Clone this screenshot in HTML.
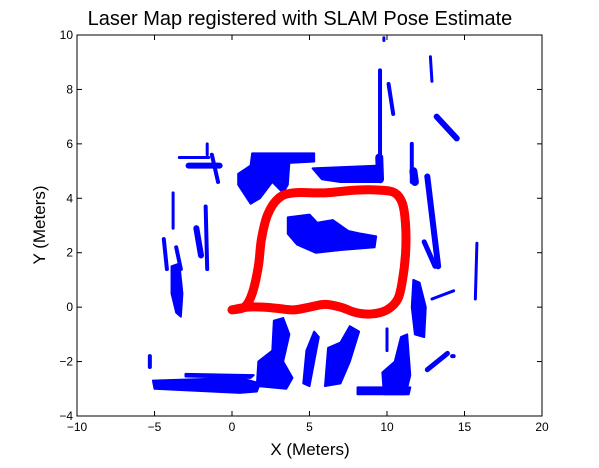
<!DOCTYPE html>
<html><head><meta charset="utf-8"><style>
html,body{margin:0;padding:0;background:#fff;}
svg{display:block;font-family:"Liberation Sans",sans-serif;}
</style></head><body>
<svg id="chart" width="599" height="468" viewBox="0 0 599 468">
<rect width="599" height="468" fill="#fff"/>
<text x="300" y="25" font-size="20" text-anchor="middle">Laser Map registered with SLAM Pose Estimate</text>
<text x="310" y="455" font-size="17" text-anchor="middle">X (Meters)</text>
<text transform="translate(45,225) rotate(-90)" font-size="17" text-anchor="middle">Y (Meters)</text>
<g id="marks"></g>
<g id="axes"></g>
</svg>
<script>
const xTicks=[-10,-5,0,5,10,15,20];
const yTicks=[-4,-2,0,2,4,6,8,10];
// laser scan blobs (polygons, data coords)
const scanBlobs=[
 [[1.3,5.65],[5.3,5.65],[5.3,5.35],[3.7,5.3],[3.6,4.5],[3.3,4.2],[2.6,4.6],[1.8,4.0],[1.2,3.8],[0.4,4.5],[0.4,4.9],[1.2,5.2]],
 [[5.2,5.1],[9.5,5.2],[9.6,4.6],[7,4.6],[5.8,4.7]],
 [[3.6,3.3],[5,3.4],[5.5,3.1],[6.5,3.2],[7.5,2.8],[8.3,2.7],[9.3,2.6],[9.2,2.2],[7,2.1],[5.4,2.0],[4.2,2.3],[3.6,2.7]],
 [[-3.9,1.5],[-3.4,1.6],[-3.2,0.5],[-3.3,-0.35],[-3.6,-0.2],[-3.9,0.5]],
 [[-5.1,-2.7],[0.5,-2.6],[1.8,-2.8],[1.6,-3.1],[0.5,-3.15],[-5,-3.0]],
 [[2.7,-0.5],[3.3,-0.4],[3.7,-1.0],[3.3,-2.0],[3.9,-2.6],[3.5,-3.0],[1.6,-2.9],[1.7,-2.0],[2.6,-1.6]],
 [[5.3,-0.9],[5.6,-1.1],[5.0,-2.9],[4.6,-2.8],[4.8,-1.6]],
 [[7.6,-0.7],[8.2,-0.9],[7.6,-2.0],[7.0,-2.8],[6.0,-2.9],[6.2,-1.5],[7.0,-1.3]],
 [[8.1,-2.95],[11.5,-2.95],[11.4,-3.2],[8.1,-3.2]],
 [[10.9,-1.1],[11.3,-1.0],[11.5,-2.5],[11.2,-3.2],[9.8,-3.2],[9.7,-2.4],[10.5,-2.0]],
 [[11.7,1.0],[12.1,0.9],[12.5,0],[12.4,-1.1],[11.8,-1.0],[11.6,0]],
 [[1.4,-2.5],[1.2,-2.6],[-3,-2.55],[-3,-2.45]]
];
// laser scan strokes [x1,y1,x2,y2,widthPx]
const scanLines=[
 [-2.8,5.2,-0.8,5.2,6],[-3.4,5.5,-1.5,5.5,3],[-1.6,6.0,-1.6,5.6,3],[-1.3,5.6,-0.9,4.6,4],
 [-3.8,4.2,-3.8,2.9,3],[-1.7,3.7,-1.6,1.4,4],[-4.4,2.5,-4.2,1.4,4],[-3.6,2.2,-3.3,1.4,4],
 [-2.3,2.9,-2.0,1.9,6],[-5.3,-1.8,-5.3,-2.2,4],
 [9.55,8.7,9.55,5.5,4],[9.5,5.5,9.55,4.7,8],[10.1,8.2,10.4,7.1,4],[9.8,9.9,9.8,9.8,3],
 [12.8,9.2,12.9,8.3,3],[13.2,7.0,14.5,6.2,6],[11.6,6.0,11.6,4.6,4],[11.7,5.0,11.8,4.6,8],
 [12.6,4.8,13.3,1.5,6],[15.8,2.35,15.7,0.3,3],[12.4,2.4,13.1,1.5,5],[12.9,0.3,14.3,0.6,3],
 [12.6,-2.3,13.9,-1.7,5],[14.2,-1.8,14.3,-1.8,4],[10.0,-0.8,10.0,-1.6,3]
];
// SLAM pose trajectory
const poseX=[0,1,2,3,4,5,6,7,8,9,10,10.7,11,11.2,11.2,11,10.5,9.5,8,6,4,3,2.3,1.9,1.7,1.3,0.8,0];
const poseY=[-0.1,0,0,-0.05,-0.1,0,0.1,0,-0.2,-0.25,-0.1,0.3,1,2,3,3.8,4.2,4.3,4.3,4.2,4.2,4.0,3.4,2.5,1.5,0.5,0,-0.1];

const L=77,R=542,T=35,B=416,xMin=-10,xMax=20,yMin=-4,yMax=10;
const sx=v=>L+(v-xMin)/(xMax-xMin)*(R-L);
const sy=v=>B-(v-yMin)/(yMax-yMin)*(B-T);
const NS='http://www.w3.org/2000/svg';
const marks=document.getElementById('marks'),axes=document.getElementById('axes');
function mk(t,a,p){const e=document.createElementNS(NS,t);for(const k in a)e.setAttribute(k,a[k]);p.appendChild(e);return e;}
scanBlobs.forEach(b=>{
 const e=mk('polygon',{points:b.map(p=>sx(p[0])+','+sy(p[1])).join(' '),fill:'#0000ff',stroke:'#0000ff','stroke-width':2,'stroke-linejoin':'round'},marks);
 
 
});
scanLines.forEach(s=>{
 const e=mk('line',{x1:sx(s[0]),y1:sy(s[1]),x2:sx(s[2]),y2:sy(s[3]),stroke:'#0000ff','stroke-width':s[4],'stroke-linecap':'round'},marks);
 
 
});
// smooth Catmull-Rom path through pose points
const P=poseX.map((x,i)=>[sx(x),sy(poseY[i])]);
let d='M'+P[0][0]+','+P[0][1];
for(let i=0;i<P.length-1;i++){
 const p0=P[Math.max(i-1,0)],p1=P[i],p2=P[i+1],p3=P[Math.min(i+2,P.length-1)];
 const c1=[p1[0]+(p2[0]-p0[0])/6,p1[1]+(p2[1]-p0[1])/6];
 const c2=[p2[0]-(p3[0]-p1[0])/6,p2[1]-(p3[1]-p1[1])/6];
 d+=' C'+c1[0]+','+c1[1]+' '+c2[0]+','+c2[1]+' '+p2[0]+','+p2[1];
}
const pose=mk('path',{d:d,fill:'none',stroke:'#ff0000','stroke-width':9,'stroke-linejoin':'round','stroke-linecap':'round'},marks);


const box=mk('rect',{x:L,y:T,width:R-L,height:B-T,fill:'none',stroke:'#000','stroke-width':1},axes);


xTicks.forEach(v=>{
 const x=sx(v);
 mk('line',{x1:x,y1:B,x2:x,y2:B-5,stroke:'#000'},axes);
 mk('line',{x1:x,y1:T,x2:x,y2:T+5,stroke:'#000'},axes);
 const t=mk('text',{x:x,y:B+15,'font-size':12,'text-anchor':'middle'},axes);
 t.textContent=String(v).replace('-','\u2212');
 
 
});
yTicks.forEach(v=>{
 const y=sy(v);
 mk('line',{x1:L,y1:y,x2:L+5,y2:y,stroke:'#000'},axes);
 mk('line',{x1:R,y1:y,x2:R-5,y2:y,stroke:'#000'},axes);
 const t=mk('text',{x:L-4,y:y+4,'font-size':12,'text-anchor':'end'},axes);
 t.textContent=String(v).replace('-','\u2212');
 
 
});
</script>
</body></html>
